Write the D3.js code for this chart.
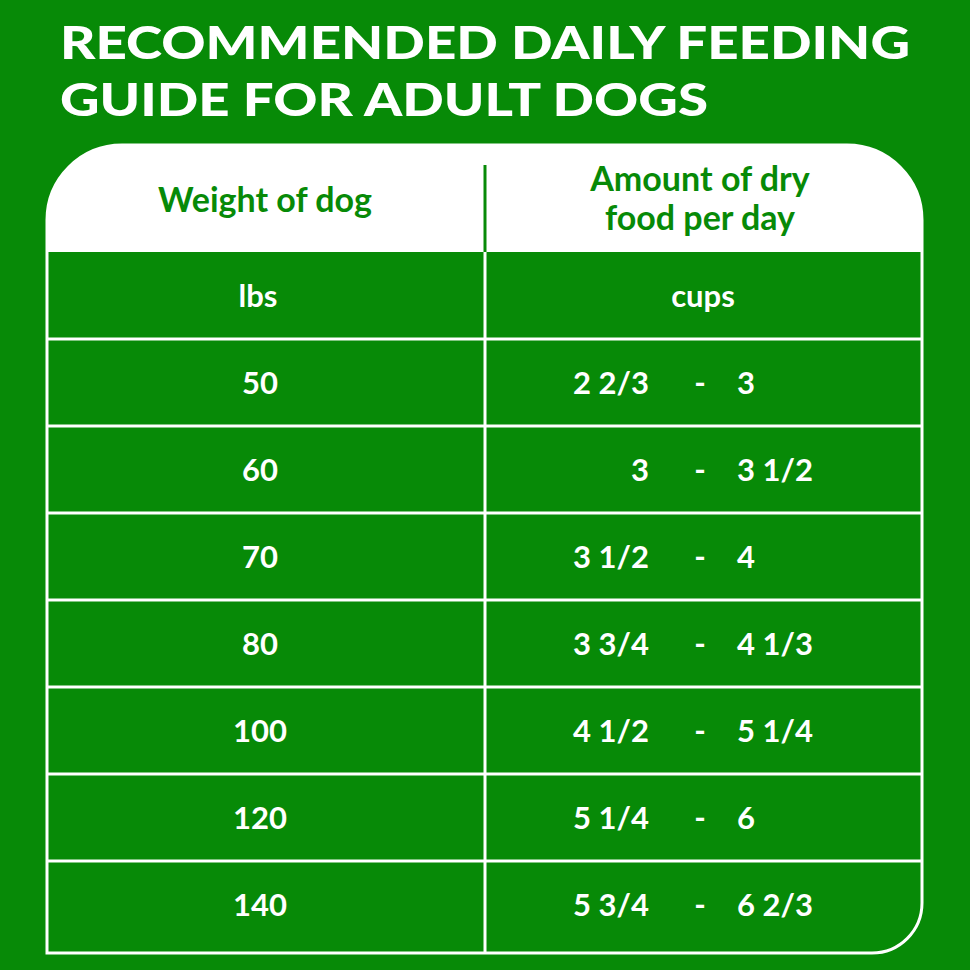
<!DOCTYPE html><html><head><meta charset="utf-8"><script src="https://cdn.jsdelivr.net/npm/d3@7"></script>
<style>body{margin:0;background:#078a07}</style></head><body><svg id="c" width="970" height="970"></svg>
<script>
const titleLines=["RECOMMENDED DAILY FEEDING","GUIDE FOR ADULT DOGS"];
const weights=["50","60","70","80","100","120","140"];
const fromCups=["2 2/3","3","3 1/2","3 3/4","4 1/2","5 1/4","5 3/4"];
const toCups=["3","3 1/2","4","4 1/3","5 1/4","6","6 2/3"];
const G="#078a07",W="#fff",F="Lato, 'Open Sans', sans-serif";
const svg=d3.select("#c");
svg.append("rect").attr("width",970).attr("height",970).attr("fill",G);
svg.selectAll("text.t").data(titleLines).join("text").attr("x",60).attr("y",(d,i)=>59+i*57)
 .attr("fill",W).attr("font-family",F).attr("font-weight",900).attr("font-size",46)
 .attr("textLength",(d,i)=>i?648:850).attr("lengthAdjust","spacingAndGlyphs").text(d=>d);
const L=47,R=922,T=145,B=953,rt=75,rb=50,H=252;
const shape=`M${L},${T+rt} A${rt},${rt} 0 0 1 ${L+rt},${T} H${R-rt} A${rt},${rt} 0 0 1 ${R},${T+rt} V${B-rb} A${rb},${rb} 0 0 1 ${R-rb},${B} H${L} Z`;
svg.append("clipPath").attr("id","cp").append("path").attr("d",shape);
svg.append("rect").attr("x",L).attr("y",T).attr("width",R-L).attr("height",H-T).attr("fill",W).attr("clip-path","url(#cp)");
svg.append("path").attr("d",shape).attr("fill","none").attr("stroke",W).attr("stroke-width",3);
const y=d3.scaleBand().domain(["h",...weights]).range([H,B-5]);
const rows=svg.append("g");
y.domain().forEach((k,i)=>{ if(i>0) rows.append("line").attr("x1",L).attr("x2",R).attr("y1",y(k)).attr("y2",y(k)).attr("stroke",W).attr("stroke-width",3);});
svg.append("line").attr("x1",485).attr("x2",485).attr("y1",165).attr("y2",H).attr("stroke",G).attr("stroke-width",3);
svg.append("line").attr("x1",485).attr("x2",485).attr("y1",H).attr("y2",B).attr("stroke",W).attr("stroke-width",3);
const txt=(x,yy,s,c,a,sz)=>svg.append("text").attr("x",x).attr("y",yy).attr("fill",c).attr("text-anchor",a||"middle").attr("font-family",F).attr("font-weight",700).attr("font-size",sz||31).text(s);
txt(265,212,"Weight of dog",G,"middle",34);
txt(700,191,"Amount of dry",G,"middle",34);txt(700,230,"food per day",G,"middle",34);
const cy=k=>y(k)+y.bandwidth()/2+11;
txt(258,cy("h"),"lbs",W);txt(703,cy("h"),"cups",W);
weights.forEach((w,i)=>{txt(260,cy(w),w,W);txt(649,cy(w),fromCups[i],W,"end");txt(700,cy(w),"-",W);txt(737,cy(w),toCups[i],W,"start");});
</script></body></html>
